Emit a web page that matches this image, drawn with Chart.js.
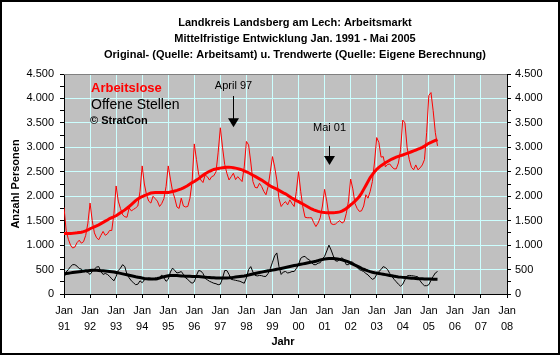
<!DOCTYPE html>
<html><head><meta charset="utf-8">
<script src="https://cdn.jsdelivr.net/npm/chart.js@4/dist/chart.umd.min.js"></script>
<style>html,body{margin:0;padding:0;background:#fff;}canvas{display:block;}</style>
</head><body>
<canvas id="c" width="560" height="355"></canvas>
<script>
const titleLines = [
  'Landkreis Landsberg am Lech: Arbeitsmarkt',
  'Mittelfristige Entwicklung Jan. 1991 - Mai 2005',
  'Original- (Quelle: Arbeitsamt) u. Trendwerte (Quelle: Eigene Berechnung)'
];
const yAxisTitle = 'Anzahl Personen';
const xAxisTitle = 'Jahr';
const yearLabels = ['91','92','93','94','95','96','97','98','99','00','01','02','03','04','05','06','07','08'];
const legendLines = ['Arbeitslose', 'Offene Stellen', '\u00A9 StratCon'];

// monthly values, Jan 1991 .. May 2005
const arbeitslose = [
  1770,1300,1120,1000,940,960,1050,1100,1040,1070,1200,1450,
  1860,1500,1250,1150,1110,1200,1280,1200,1230,1300,1300,1650,
  2210,1900,1750,1620,1580,1570,1760,1700,1730,1760,1800,2100,
  2620,2250,2030,1900,1860,2000,1950,1900,1790,1850,1950,2200,
  2620,2350,2100,1960,1780,1750,1960,1800,1780,1790,1960,2300,
  3070,2750,2450,2333,2280,2435,2400,2330,2400,2420,2500,2900,
  3400,3000,2650,2470,2333,2400,2470,2340,2400,2350,2300,2600,
  3120,3050,2700,2300,2180,2170,2265,2200,2100,2030,2200,2500,
  2810,2600,2333,1950,1790,1850,1890,1823,1925,1850,1790,2100,
  2500,2100,1780,1570,1560,1560,1560,1460,1380,1450,1560,1800,
  2140,1900,1600,1440,1420,1430,1470,1500,1450,1480,1650,1900,
  2350,2150,1850,1750,1690,1700,1800,2030,1960,2100,2300,2700,
  3200,3100,2800,2810,2600,2650,2660,2600,2560,2560,2680,2950,
  3557,3500,3000,2750,2592,2540,2640,2540,2580,2640,2750,3300,
  4060,4120,3750,3300,3030
];
const arbeitsloseTrend = [
  1235,1236,1238,1240,1243,1247,1252,1258,1265,1275,1290,1310,
  1335,1355,1375,1395,1415,1440,1465,1490,1515,1540,1560,1580,
  1600,1630,1660,1690,1720,1755,1790,1830,1870,1910,1945,1970,
  1990,2010,2030,2050,2065,2072,2075,2075,2075,2075,2075,2075,
  2078,2085,2095,2108,2120,2135,2150,2170,2195,2220,2250,2280,
  2300,2330,2360,2395,2430,2460,2485,2510,2530,2548,2560,2568,
  2575,2582,2588,2592,2593,2590,2584,2575,2565,2553,2540,2520,
  2500,2480,2455,2430,2405,2380,2355,2330,2300,2270,2240,2210,
  2185,2165,2145,2120,2095,2070,2050,2020,1990,1960,1935,1910,
  1890,1865,1840,1815,1790,1765,1740,1720,1705,1690,1680,1672,
  1666,1662,1660,1660,1662,1666,1672,1680,1695,1720,1750,1785,
  1823,1860,1900,1945,1995,2060,2140,2220,2300,2380,2440,2500,
  2550,2590,2625,2655,2685,2710,2735,2760,2780,2800,2815,2830,
  2843,2860,2876,2893,2910,2927,2945,2962,2980,3000,3025,3055,
  3082,3100,3120,3140,3160
];
const offeneStellen = [
  330,450,500,560,600,600,570,520,510,450,460,440,
  400,460,510,550,560,460,400,420,400,360,310,270,
  360,480,530,600,560,400,330,270,230,190,200,270,
  230,290,320,330,320,300,290,290,330,390,330,260,
  300,450,530,480,430,440,460,400,330,300,250,220,
  250,380,480,470,420,320,290,260,240,220,210,190,
  200,320,480,480,400,300,290,280,270,260,240,220,
  330,500,560,450,380,370,380,375,360,360,420,520,
  650,780,840,560,400,450,460,430,440,460,460,520,
  600,730,760,770,720,700,640,600,600,630,640,720,
  770,880,1000,900,780,680,670,720,740,700,600,600,
  660,650,600,540,500,480,460,420,390,340,300,320,
  400,460,500,560,540,500,420,360,300,250,200,160,
  200,290,370,380,375,370,360,350,270,210,170,170,
  190,280,360,430,460
];
const offeneStellenTrend = [
  414,420,426,432,438,444,450,456,462,468,474,478,
  482,484,485,484,482,478,474,470,466,462,456,450,
  441,432,422,412,402,392,382,372,362,352,344,336,
  326,318,312,307,305,306,310,318,328,340,352,362,
  372,376,378,378,376,373,370,367,364,362,361,360,
  360,358,356,352,348,344,340,336,332,330,328,327,
  326,326,326,327,330,334,340,346,352,358,364,370,
  378,388,398,408,418,428,438,448,458,466,474,480,
  488,496,505,514,523,532,542,552,562,572,582,590,
  598,607,616,625,634,643,652,661,670,684,698,706,
  714,720,724,726,726,722,716,708,698,686,672,656,
  632,612,592,570,548,526,506,488,472,458,446,436,
  428,420,412,404,396,388,380,372,364,356,350,345,
  340,336,332,328,324,320,317,314,312,310,308,307,
  306,305,304,303,302
];
// annotations in data units (month index since Jan 1991, persons)
const notes = [
  {text:'April 97', month:78, textY:4250, top:4050, tip:3410},
  {text:'Mai 01', month:122, textY:3400, top:3030, tip:2640}
];

const FONT = "'Liberation Sans', Arial, sans-serif";
const pts = a => a.map((v,i)=>({x:i, y:v}));
const fmt = v => { const s = String(v); return s.length > 3 ? s.slice(0,-3)+'.'+s.slice(-3) : s; };
const gridCol = '#CCFFFF';

const decor = {
  id:'decor',
  beforeDraw(chart){
    const {ctx, chartArea:a} = chart;
    ctx.save();
    ctx.fillStyle = '#fff'; ctx.fillRect(0,0,chart.width,chart.height);
    ctx.fillStyle = '#C0C0C0'; ctx.fillRect(a.left,a.top,a.right-a.left,a.bottom-a.top);
    ctx.restore();
  },
  afterDraw(chart){
    const {ctx, chartArea:a, scales} = chart;
    const xs = scales.x, ys = scales.y;
    ctx.save();
    // top border of plot
    ctx.strokeStyle = '#808080'; ctx.lineWidth = 1;
    ctx.beginPath(); ctx.moveTo(a.left, a.top+0.5); ctx.lineTo(a.right, a.top+0.5); ctx.stroke();
    // titles
    ctx.fillStyle = '#000'; ctx.textAlign = 'center'; ctx.textBaseline = 'middle';
    ctx.font = 'bold 11px ' + FONT;
    titleLines.forEach((t,i)=>ctx.fillText(t, 295, 23 + i*16));
    ctx.fillText(xAxisTitle, 283, 342);
    ctx.save(); ctx.translate(16, (a.top+a.bottom)/2); ctx.rotate(-Math.PI/2);
    ctx.fillText(yAxisTitle, 0, 0); ctx.restore();
    // legend texts
    ctx.textAlign = 'left';
    ctx.font = 'bold 13px ' + FONT; ctx.fillStyle = '#FF0000';
    ctx.fillText(legendLines[0], a.left+27, a.top+14);
    ctx.font = '14px ' + FONT; ctx.fillStyle = '#000';
    ctx.fillText(legendLines[1], a.left+27, a.top+31);
    ctx.font = 'bold 11px ' + FONT;
    ctx.fillText(legendLines[2], a.left+26, a.top+47);
    // annotations
    ctx.font = '11px ' + FONT; ctx.textAlign = 'center';
    notes.forEach(n=>{
      const x = Math.round(xs.getPixelForValue(n.month)) + 0.5;
      const ty = ys.getPixelForValue(n.textY);
      const top = ys.getPixelForValue(n.top);
      const tip = ys.getPixelForValue(n.tip);
      ctx.fillText(n.text, x, ty);
      ctx.strokeStyle = '#000'; ctx.lineWidth = 1;
      ctx.beginPath(); ctx.moveTo(x, top); ctx.lineTo(x, tip-8); ctx.stroke();
      ctx.beginPath(); ctx.moveTo(x-5.5, tip-9); ctx.lineTo(x+5.5, tip-9); ctx.lineTo(x, tip); ctx.closePath(); ctx.fill();
    });
    // outer frame
    ctx.strokeStyle = '#000'; ctx.lineWidth = 2;
    ctx.strokeRect(1,1,chart.width-2,chart.height-2);
    ctx.restore();
  }
};

Chart.defaults.font.family = FONT;
Chart.defaults.font.size = 11;
Chart.defaults.color = '#000';

const yTickCfg = {
  min:0, max:4500,
  ticks:{stepSize:250, autoSkip:false, padding:6, font:{size:11},
    callback:v => v % 500 === 0 ? fmt(v) : ''},
  border:{display:true, color:'#000', width:1}
};

new Chart(document.getElementById('c'), {
  type:'line',
  data:{datasets:[
    {data:pts(offeneStellenTrend), borderColor:'#000', borderWidth:3},
    {data:pts(arbeitsloseTrend), borderColor:'#FF0000', borderWidth:3},
    {data:pts(offeneStellen), borderColor:'#000', borderWidth:1},
    {data:pts(arbeitslose), borderColor:'#FF0000', borderWidth:1}
  ]},
  options:{
    responsive:false, animation:false, devicePixelRatio:1,
    parsing:false,
    elements:{point:{radius:0}, line:{tension:0, fill:false, borderCapStyle:'butt', borderJoinStyle:'miter'}},
    layout:{padding:{top:74, left:0, right:0, bottom:0}},
    plugins:{legend:{display:false}, tooltip:{enabled:false}, title:{display:false}},
    scales:{
      x:{type:'linear', min:0, max:204,
        ticks:{stepSize:12, autoSkip:false, maxRotation:0, padding:5, font:{size:11, lineHeight:'16px'},
          callback:v => ['Jan', yearLabels[Math.round(v/12)]]},
        grid:{color:ctx => (ctx.tick && ctx.tick.value % 12 === 0) ? gridCol : 'rgba(0,0,0,0)', tickColor:'#000', tickLength:4, lineWidth:1},
        border:{display:true, color:'#000', width:1},
        afterFit:s => { s.height = 61; }
      },
      y:Object.assign({}, yTickCfg, {position:'left',
        grid:{color:ctx => (ctx.tick && ctx.tick.value % 500 === 0) ? gridCol : 'rgba(0,0,0,0)', tickColor:'#000', tickLength:4},
        afterFit:s => { s.width = 64; }}),
      y2:Object.assign({}, yTickCfg, {position:'right', ticks:Object.assign({}, yTickCfg.ticks, {padding:4}),
        grid:{drawOnChartArea:false, tickColor:'#000', tickLength:4},
        afterFit:s => { s.width = 53; }})
    }
  },
  plugins:[decor]
});
</script>
</body></html>
